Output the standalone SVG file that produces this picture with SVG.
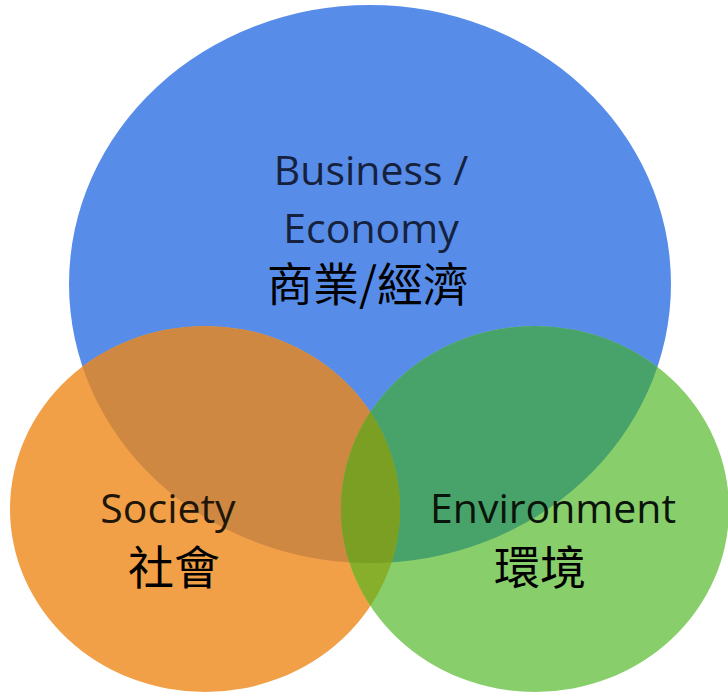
<svg xmlns="http://www.w3.org/2000/svg" width="728" height="692" viewBox="0 0 728 692">
  <style>
    .en { font-family: "Open Sans", "Liberation Sans", sans-serif; font-size: 41px; text-anchor: middle; }
    .cjk { font-family: "Noto Sans CJK TC", "Noto Sans CJK SC", sans-serif; font-size: 46px; text-anchor: middle; fill: #000; }
  </style>
  <defs>
    <clipPath id="clipBlue"><ellipse cx="370" cy="284" rx="301" ry="279"/></clipPath>
    <clipPath id="clipGreen"><ellipse cx="535" cy="509" rx="194" ry="183"/></clipPath>
  </defs>
  <rect width="728" height="692" fill="#ffffff"/>
  <g id="business">
    <ellipse cx="370" cy="284" rx="301" ry="279" fill="#578DE9"/>
  </g>
  <g id="society">
    <ellipse cx="205" cy="509" rx="195" ry="183" fill="#F1A048"/>
    <ellipse cx="205" cy="509" rx="195" ry="183" fill="#CF8842" clip-path="url(#clipBlue)"/>
  </g>
  <g id="environment">
    <ellipse cx="535" cy="509" rx="194" ry="183" fill="#88CE6B"/>
    <ellipse cx="535" cy="509" rx="194" ry="183" fill="#48A36B" clip-path="url(#clipBlue)"/>
    <ellipse cx="205" cy="509" rx="195" ry="183" fill="#87AF2B" clip-path="url(#clipGreen)"/>
    <g clip-path="url(#clipBlue)">
      <ellipse cx="205" cy="509" rx="195" ry="183" fill="#7B9F23" clip-path="url(#clipGreen)"/>
    </g>
  </g>
  <g id="connectors"/>
  <g id="labels">
    <text class="en" x="371" y="185" fill="#16223D">Business /</text>
    <text class="en" x="371" y="243" fill="#16223D">Economy</text>
    <text class="cjk" x="368" y="301">商業/經濟</text>
    <text class="en" x="168" y="523" fill="#1E1608">Society</text>
    <text class="cjk" x="174" y="584">社會</text>
    <text class="en" x="553" y="523" fill="#0A140B">Environment</text>
    <text class="cjk" x="540" y="584">環境</text>
  </g>
</svg>
